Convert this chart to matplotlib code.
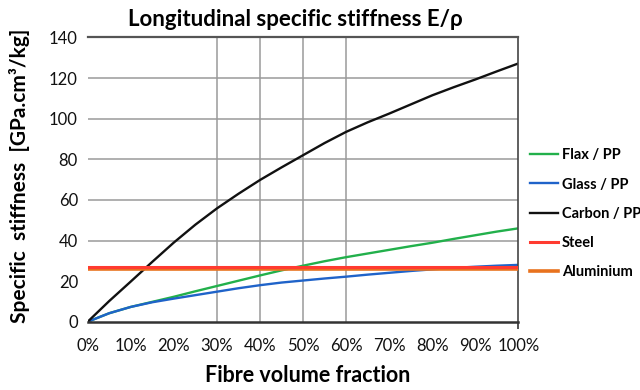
import matplotlib
matplotlib.use("Agg")
import matplotlib.pyplot as plt
from matplotlib.ticker import FuncFormatter

plt.rcParams['font.family'] = ['Lato', 'DejaVu Sans']

# Fibre volume fraction (0 .. 1) and specific stiffness in GPa.cm3/kg
vf = [0.00, 0.05, 0.10, 0.15, 0.20, 0.25, 0.30, 0.35, 0.40, 0.45, 0.50,
      0.55, 0.60, 0.65, 0.70, 0.75, 0.80, 0.85, 0.90, 0.95, 1.00]
flax_pp = [0.0, 4.2, 7.3, 9.8, 12.3, 15.0, 17.6, 20.2, 22.8, 25.3, 27.6,
           29.8, 31.8, 33.6, 35.4, 37.2, 38.9, 40.8, 42.6, 44.4, 46.0]
glass_pp = [0.0, 4.2, 7.3, 9.6, 11.4, 13.1, 14.8, 16.5, 18.0, 19.3, 20.3,
            21.3, 22.2, 23.2, 24.1, 25.0, 25.8, 26.5, 27.1, 27.6, 28.0]
carbon_pp = [0.0, 10.2, 19.8, 29.5, 39.0, 47.8, 55.8, 63.0, 69.8, 76.0, 82.0,
             88.0, 93.5, 98.2, 102.5, 107.0, 111.5, 115.5, 119.3, 123.3, 127.2]
steel = 26.8
aluminium = 25.9

x_ticks = [0.0, 0.1, 0.2, 0.3, 0.4, 0.5, 0.6, 0.7, 0.8, 0.9, 1.0]
y_ticks = [0, 20, 40, 60, 80, 100, 120, 140]
x_grid = [0.3, 0.4, 0.5, 0.6]

fig = plt.figure(figsize=(6.4, 3.9), dpi=100)
ax = fig.add_axes([0.137, 0.175, 0.673, 0.729])

ax.plot(vf, flax_pp, color='#22b04b', lw=1.7, label='Flax / PP')
ax.plot(vf, glass_pp, color='#1f63c9', lw=1.7, label='Glass / PP')
ax.plot(vf, carbon_pp, color='#111111', lw=1.7, label='Carbon / PP')
ax.axhline(aluminium, color='#e8721e', lw=2.6, label='Aluminium', zorder=3)
ax.axhline(steel, color='#ff3b30', lw=2.2, label='Steel', zorder=3)

ax.set_xlim(0, 1)
ax.set_ylim(0, 140)
ax.set_xticks(x_ticks)
ax.set_yticks(y_ticks)
ax.xaxis.set_major_formatter(FuncFormatter(lambda v, p: f"{v*100:.0f}%"))
ax.tick_params(axis='both', labelsize=12, colors='#111111')
ax.tick_params(axis='y', length=0, pad=7)
ax.tick_params(axis='x', length=5, width=1.2, color='#333333', pad=7)
for i, t in enumerate(ax.xaxis.get_major_ticks()):
    t.tick1line.set_visible(i == len(x_ticks) - 1)

# horizontal grid from 40 upwards, vertical grid at 30-60 %
for v in y_ticks:
    if 40 <= v < 140:
        ax.axhline(v, color='#9a9a9a', lw=1.1, zorder=0)
for v in x_grid:
    ax.axvline(v, color='#9a9a9a', lw=1.1, zorder=0)

ax.spines['left'].set_visible(False)
ax.spines['top'].set_color('#555555')
ax.spines['top'].set_linewidth(1.6)
ax.spines['right'].set_color('#444444')
ax.spines['right'].set_linewidth(1.2)
ax.spines['bottom'].set_color('#333333')
ax.spines['bottom'].set_linewidth(1.8)

fig.text(0.462, 1 - 20 / 390, 'Longitudinal specific stiffness E/\u03c1',
         fontsize=16, fontweight='bold', ha='center', va='center')
fig.text(0.48, 1 - 375 / 390, 'Fibre volume fraction',
         fontsize=15.5, fontweight='bold', ha='center', va='center')
fig.text(20 / 640, 1 - 176 / 390, 'Specific  stiffness  [GPa.cm\u00b3/kg]',
         fontsize=15, fontweight='bold', ha='center', va='center', rotation=90)

handles, labels = ax.get_legend_handles_labels()
order = ['Flax / PP', 'Glass / PP', 'Carbon / PP', 'Steel', 'Aluminium']
hmap = dict(zip(labels, handles))
fig.legend([hmap[k] for k in order], order, loc='upper left',
           bbox_to_anchor=(0.828, 0.62), frameon=False,
           prop={'size': 10.5, 'weight': 'bold'}, handlelength=1.9,
           handletextpad=0.3, labelspacing=1.05, borderaxespad=0,
           borderpad=0)

fig.savefig('out.png', dpi=100)
